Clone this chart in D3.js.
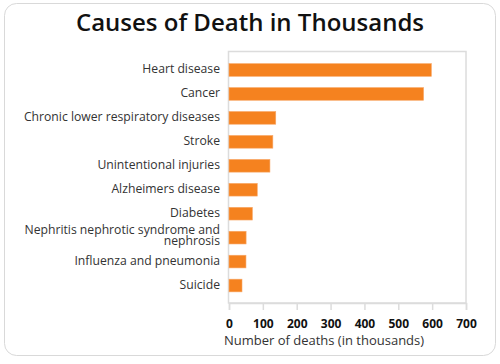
<!DOCTYPE html>
<html>
<head>
<meta charset="utf-8">
<script src="https://cdn.jsdelivr.net/npm/d3@7"></script>
<style>
  body { margin: 0; background: #fff; }
  svg { font-family: "Open Sans", "Noto Sans", sans-serif; }
</style>
</head>
<body>
<svg id="chart"></svg>
<script>
const width = 500;
const height = 364;

// data, in thousands
const causes = ["Heart disease", "Cancer", "Chronic lower respiratory diseases", "Stroke",
  "Unintentional injuries", "Alzheimers disease", "Diabetes",
  "Nephritis nephrotic syndrome and nephrosis", "Influenza and pneumonia", "Suicide"];
const deaths = [597.7, 574.7, 138.1, 129.5, 120.9, 83.5, 69.1, 50.5, 50.1, 38.4];
const xTicks = [0, 100, 200, 300, 400, 500, 600, 700];

const svg = d3.select('#chart')
  .attr('width', width)
  .attr('height', height);

// card background
svg.append('rect')
  .attr('x', 4.5).attr('y', 3.5)
  .attr('width', 491).attr('height', 352)
  .attr('rx', 12)
  .attr('fill', '#fff')
  .attr('stroke', '#d9d9d9');

svg.append('text')
  .attr('x', 250).attr('y', 25)
  .attr('text-anchor', 'middle')
  .attr('dominant-baseline', 'middle')
  .attr('font-size', 24)
  .attr('font-weight', 600)
  .attr('fill', '#111')
  .text('Causes of Death in Thousands');

const plotL = 229, plotR = 466, plotT = 52, plotB = 303;

const x = d3.scaleLinear().domain([0, 700]).range([plotL, plotR]);
const y = d3.scaleBand().domain(causes).range([58, 297.5]).paddingInner(0.47).paddingOuter(0.235);

// plot frame
svg.append('rect')
  .attr('x', plotL - 0.5).attr('y', plotT - 0.5)
  .attr('width', plotR - plotL + 0.5).attr('height', plotB - plotT + 0.5)
  .attr('fill', 'none')
  .attr('stroke', '#dcdcdc')
  .attr('stroke-width', 1.5);

// bars
svg.append('g')
  .selectAll('rect')
  .data(causes)
  .enter()
  .append('rect')
  .attr('x', x(0))
  .attr('y', d => y(d))
  .attr('width', (d, i) => x(deaths[i]) - x(0))
  .attr('height', y.bandwidth())
  .attr('fill', '#f5821f')
  .attr('stroke', '#f8a868')
  .attr('stroke-width', 0.6);

// category labels, the long one wraps
const labels = svg.append('g')
  .selectAll('text')
  .data(causes)
  .enter()
  .append('text')
  .attr('text-anchor', 'end')
  .attr('font-size', 12.2)
  .attr('fill', '#333');

labels.each(function (d) {
  const t = d3.select(this);
  const cy = y(d) + y.bandwidth() / 2;
  const lines = d.startsWith('Nephritis') ? ['Nephritis nephrotic syndrome and', 'nephrosis'] : [d];
  const lh = 11;
  const shift = lines.length > 1 ? -1.5 : 0;
  lines.forEach((ln, j) => {
    t.append('tspan')
      .attr('x', 220)
      .attr('y', cy - (lines.length - 1) * lh / 2 + shift + j * lh)
      .attr('dominant-baseline', 'middle')
      .text(ln);
  });
});

// x axis
const xAxis = d3.axisBottom(x).tickValues(xTicks).tickSize(7).tickFormat(d3.format('d'));
const gx = svg.append('g')
  .attr('transform', `translate(0, ${plotB})`)
  .call(xAxis);
gx.select('.domain').attr('stroke', '#dcdcdc').attr('stroke-width', 1.5);
gx.selectAll('.tick line').attr('stroke', '#dcdcdc').attr('stroke-width', 1.5);
gx.selectAll('.tick text')
  .attr('font-family', '"Open Sans", sans-serif')
  .attr('font-size', 12)
  .attr('font-weight', 700)
  .attr('fill', '#111')
  .attr('dy', null)
  .attr('y', 22)
  .attr('dominant-baseline', 'middle');

svg.append('text')
  .attr('x', 324).attr('y', 342)
  .attr('text-anchor', 'middle')
  .attr('dominant-baseline', 'middle')
  .attr('font-size', 13)
  .attr('fill', '#333')
  .text('Number of deaths (in thousands)');
</script>
</body>
</html>
